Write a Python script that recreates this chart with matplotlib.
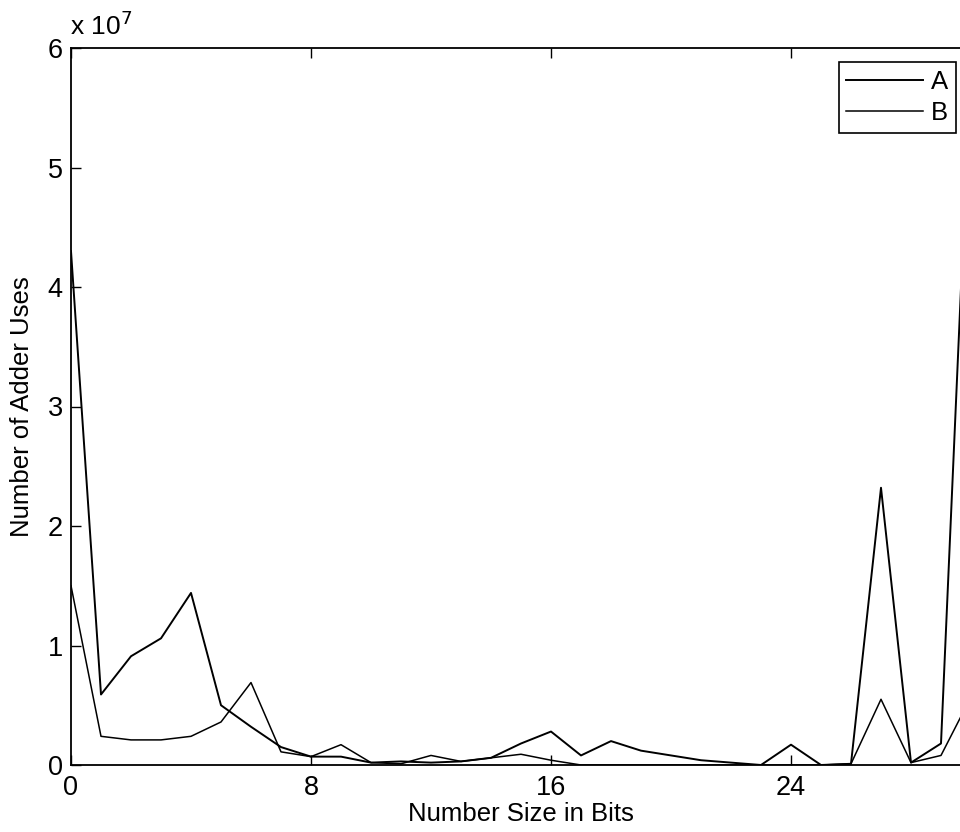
import numpy as np
import matplotlib
matplotlib.use('Agg')
import matplotlib.pyplot as plt

# number size in bits (0..30)
bits = list(range(31))

# adder uses, in units of 1e7
uses_a = [4.30, 0.59, 0.91, 1.06, 1.44, 0.50, 0.32, 0.15, 0.07, 0.07,
          0.02, 0.03, 0.02, 0.03, 0.06, 0.18, 0.28, 0.08, 0.20, 0.12,
          0.08, 0.04, 0.02, 0.00, 0.17, 0.00, 0.01, 2.32, 0.02, 0.18,
          5.90]
uses_b = [1.50, 0.24, 0.21, 0.21, 0.24, 0.36, 0.69, 0.11, 0.07, 0.17,
          0.02, 0.01, 0.08, 0.03, 0.06, 0.09, 0.04, 0.00, 0.00, 0.00,
          0.00, 0.00, 0.00, 0.00, 0.00, 0.00, 0.01, 0.55, 0.02, 0.08,
          0.57]

x_ticks = [0, 8, 16, 24]
y_ticks = [0, 1, 2, 3, 4, 5, 6]

matplotlib.rc('font', family='Liberation Sans', size=18.5)

fig = plt.figure(figsize=(9.6, 8.32), dpi=100)
W, H = 960.0, 832.0
# axes: x=0 at 71px, x=30 at 971px (cropped by the figure edge), y from 48 to 765px
ax = fig.add_axes([71 / W, (H - 765) / H, 900 / W, (765 - 48) / H])

ax.plot(bits, uses_a, color='black', lw=1.4, label='A')
ax.plot(bits, uses_b, color='black', lw=1.1, label='B')

ax.set_xlim(0, 30)
ax.set_ylim(0, 6)
ax.set_xticks(x_ticks)
ax.set_yticks(y_ticks)
ax.tick_params(direction='in', top=True, right=True, length=7, width=1,
               labelsize=19.5)
ax.tick_params(axis='x', pad=7)
ax.tick_params(axis='y', pad=6)
for s in ax.spines.values():
    s.set_linewidth(1.3)

ax.set_xlabel('Number Size in Bits', fontsize=18.5, labelpad=1)
ax.set_ylabel('Number of Adder Uses', fontsize=18.5, labelpad=10)
fig.text(70 / W, 1 - 35 / H, r'x 10$^7$', fontsize=19, ha='left', va='baseline')

leg = ax.legend(loc='upper right', bbox_to_anchor=(956 / W, 1 - 62 / H),
                bbox_transform=fig.transFigure, fontsize=18.5,
                handlelength=3.0, handletextpad=0.3, labelspacing=0.3,
                borderpad=0.3, borderaxespad=0, fancybox=False,
                edgecolor='black', framealpha=1)
leg.get_frame().set_linewidth(1.2)

fig.savefig('out.png', dpi=100)
